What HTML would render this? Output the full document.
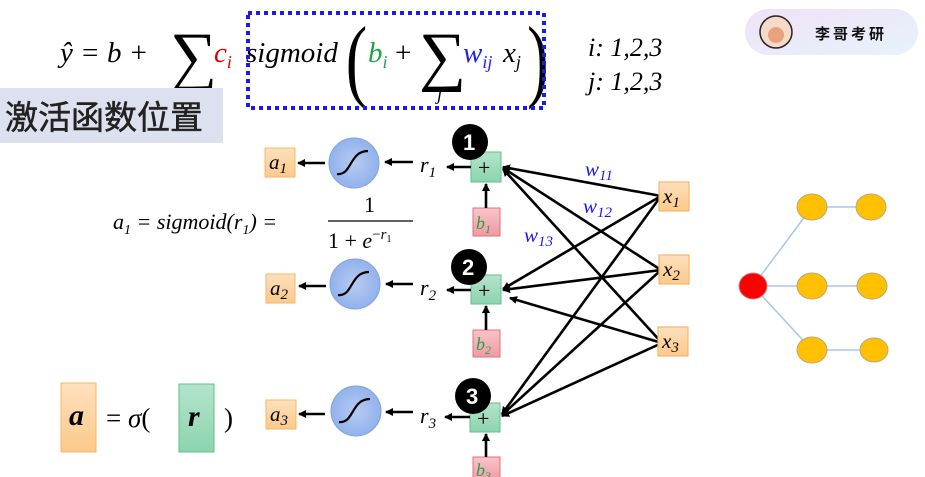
<!DOCTYPE html>
<html><head><meta charset="utf-8"><style>
html,body{margin:0;padding:0;background:#fff;}
svg{display:block;}
.m{font-family:"Liberation Serif","DejaVu Serif",serif;font-style:italic;}
.n{font-family:"Liberation Serif","DejaVu Serif",serif;}
</style></head><body>
<svg width="925" height="477" viewBox="0 0 925 477" xmlns="http://www.w3.org/2000/svg">
<defs>
<marker id="ah" markerWidth="8" markerHeight="8" refX="7" refY="4" orient="auto" markerUnits="userSpaceOnUse">
<path d="M0,0 L8,4 L0,8 z" fill="#000"/></marker>
<linearGradient id="og" x1="0" y1="0" x2="0" y2="1"><stop offset="0" stop-color="#fde0bd"/><stop offset="1" stop-color="#fcc98a"/></linearGradient>
<linearGradient id="gg" x1="0" y1="0" x2="0" y2="1"><stop offset="0" stop-color="#b4e4cc"/><stop offset="1" stop-color="#8cd4ae"/></linearGradient>
<linearGradient id="pg" x1="0" y1="0" x2="0" y2="1"><stop offset="0" stop-color="#f9c4c8"/><stop offset="1" stop-color="#ef9aa2"/></linearGradient>
<linearGradient id="bg" x1="0" y1="0" x2="1" y2="1"><stop offset="0" stop-color="#efe2f6"/><stop offset="1" stop-color="#e7f2fc"/></linearGradient>
<radialGradient id="cg"><stop offset="0" stop-color="#b6cbf3"/><stop offset="1" stop-color="#92b2ec"/></radialGradient>
</defs>

<!-- badge -->
<rect x="745" y="9" width="173" height="46" rx="23" fill="url(#bg)"/>
<circle cx="776" cy="32" r="16" fill="#f6d9c8" stroke="#222" stroke-width="1.5"/>
<circle cx="776" cy="35" r="8" fill="#e8a27c"/>
<text x="815" y="39" font-family="'Noto Sans CJK SC',sans-serif" font-size="15" font-weight="bold" letter-spacing="3" fill="#111">李哥考研</text>

<!-- top formula -->
<text class="m" x="60" y="62" font-size="29">ŷ <tspan class="n">=</tspan> b <tspan class="n">+</tspan></text>
<text class="n" x="170" y="78" font-size="66">∑</text>
<text class="m" x="214" y="62" font-size="29" fill="#e00000">c<tspan font-size="18" dy="6">i</tspan></text>
<text class="m" x="246" y="62" font-size="29">sigmoid</text>
<text class="n" x="346" y="90" font-size="92" transform="scale(0.7,1) translate(148,0)">(</text>
<text class="m" x="368" y="62" font-size="29" fill="#1fa54a">b<tspan font-size="18" dy="6">i</tspan></text>
<text class="n" x="395" y="62" font-size="29">+</text>
<text class="n" x="419" y="78" font-size="66">∑</text>
<text class="m" x="437" y="100" font-size="18">j</text>
<text class="m" x="463" y="62" font-size="29" fill="#2020ee">w<tspan font-size="18" dy="6">ij</tspan></text>
<text class="m" x="503" y="62" font-size="29">x<tspan font-size="18" dy="6">j</tspan></text>
<text class="n" x="527" y="90" font-size="92" transform="scale(0.7,1) translate(226,0)">)</text>
<rect x="248" y="13" width="296" height="95" fill="none" stroke="#1a1aee" stroke-width="4" stroke-dasharray="4,4"/>
<text class="m" x="588" y="56" font-size="26">i<tspan class="n">: 1,2,3</tspan></text>
<text class="m" x="588" y="90" font-size="26">j<tspan class="n">: 1,2,3</tspan></text>

<rect x="0" y="88" width="223" height="55" fill="#dde0ee"/>
<text x="5" y="129" font-family="'Noto Sans CJK SC',sans-serif" font-size="33" fill="#222" stroke="#222" stroke-width="0.5">激活函数位置</text>

<!-- a1 formula -->
<text class="m" x="113" y="229" font-size="22">a<tspan font-size="14" dy="5">1</tspan><tspan class="n" dy="-5"> = </tspan>sigmoid<tspan class="n">(</tspan>r<tspan font-size="14" dy="5">1</tspan><tspan class="n" dy="-5">) =</tspan></text>
<line x1="328" y1="221" x2="413" y2="221" stroke="#000" stroke-width="1.3"/>
<text class="n" x="364" y="212" font-size="22">1</text>
<text class="n" x="328" y="248" font-size="22">1 + <tspan class="m">e</tspan><tspan font-size="15" dy="-9">−</tspan><tspan class="m" font-size="15">r</tspan><tspan font-size="10" dy="3">1</tspan></text>

<!-- connection lines -->
<g stroke="#000" stroke-width="2.6" marker-end="url(#ah)">
<line x1="661" y1="196" x2="503" y2="167"/>
<line x1="661" y1="196" x2="503" y2="289"/>
<line x1="661" y1="196" x2="502" y2="414"/>
<line x1="661" y1="270" x2="503" y2="168"/>
<line x1="661" y1="270" x2="503" y2="290"/>
<line x1="661" y1="270" x2="502" y2="415"/>
<line x1="662" y1="343" x2="503" y2="169"/>
<line x1="662" y1="343" x2="510" y2="298"/>
<line x1="662" y1="343" x2="502" y2="416"/>
</g>
<text class="m" x="585" y="176" font-size="21" fill="#1a1aee">w<tspan font-size="15" dy="4">11</tspan></text>
<text class="m" x="583" y="213" font-size="21" fill="#1a1aee">w<tspan font-size="15" dy="4">12</tspan></text>
<text class="m" x="524" y="242" font-size="21" fill="#1a1aee">w<tspan font-size="15" dy="4">13</tspan></text>

<!-- x boxes -->
<g fill="url(#og)" stroke="#f7b66a" stroke-width="1.2">
<rect x="659" y="182" width="30" height="29"/>
<rect x="659" y="255" width="30" height="29"/>
<rect x="658" y="327" width="30" height="29"/>
</g>
<text class="m" x="663" y="203" font-size="21">x<tspan font-size="15" dy="4">1</tspan></text>
<text class="m" x="663" y="276" font-size="21">x<tspan font-size="15" dy="4">2</tspan></text>
<text class="m" x="662" y="348" font-size="21">x<tspan font-size="15" dy="4">3</tspan></text>

<!-- row1 -->
<rect x="471" y="152" width="30" height="30" fill="url(#gg)" stroke="#5fc08a"/>
<text class="n" x="478" y="175" font-size="22">+</text>
<rect x="473" y="208" width="27" height="28" fill="url(#pg)" stroke="#e0707c"/>
<text class="m" x="476" y="229" font-size="18" fill="#1fa54a">b<tspan font-size="12" dy="4">1</tspan></text>
<line x1="486" y1="208" x2="486" y2="184" stroke="#000" stroke-width="2.6" marker-end="url(#ah)"/>
<line x1="471" y1="167" x2="447" y2="167" stroke="#000" stroke-width="2.6" marker-end="url(#ah)"/>
<text class="m" x="420" y="172" font-size="22">r<tspan font-size="15" dy="5">1</tspan></text>
<line x1="413" y1="162" x2="385" y2="162" stroke="#000" stroke-width="2.6" marker-end="url(#ah)"/>
<circle cx="354" cy="163" r="25" fill="url(#cg)" stroke="#7fa3e0"/>
<path d="M337,174 C352,176 349,151 368,151" stroke="#000" stroke-width="2.2" fill="none"/>
<line x1="325" y1="163" x2="298" y2="163" stroke="#000" stroke-width="2.6" marker-end="url(#ah)"/>
<rect x="265" y="148" width="30" height="29" fill="url(#og)" stroke="#f7b66a"/>
<text class="m" x="269" y="169" font-size="21">a<tspan font-size="15" dy="4">1</tspan></text>
<circle cx="470" cy="142" r="18" fill="#000"/>
<text x="463" y="150" font-family="'Liberation Sans',sans-serif" font-size="22" font-weight="bold" fill="#fff">1</text>

<!-- row2 -->
<rect x="471" y="275" width="30" height="29" fill="url(#gg)" stroke="#5fc08a"/>
<text class="n" x="478" y="298" font-size="22">+</text>
<rect x="473" y="330" width="27" height="27" fill="url(#pg)" stroke="#e0707c"/>
<text class="m" x="476" y="350" font-size="18" fill="#1fa54a">b<tspan font-size="12" dy="4">2</tspan></text>
<line x1="486" y1="330" x2="486" y2="306" stroke="#000" stroke-width="2.6" marker-end="url(#ah)"/>
<line x1="471" y1="290" x2="447" y2="290" stroke="#000" stroke-width="2.6" marker-end="url(#ah)"/>
<text class="m" x="420" y="295" font-size="22">r<tspan font-size="15" dy="5">2</tspan></text>
<line x1="413" y1="284" x2="386" y2="284" stroke="#000" stroke-width="2.6" marker-end="url(#ah)"/>
<circle cx="355" cy="284" r="25" fill="url(#cg)" stroke="#7fa3e0"/>
<path d="M338,295 C353,297 350,272 369,272" stroke="#000" stroke-width="2.2" fill="none"/>
<line x1="326" y1="286" x2="299" y2="286" stroke="#000" stroke-width="2.6" marker-end="url(#ah)"/>
<rect x="266" y="274" width="29" height="29" fill="url(#og)" stroke="#f7b66a"/>
<text class="m" x="270" y="295" font-size="21">a<tspan font-size="15" dy="4">2</tspan></text>
<circle cx="469" cy="267" r="18" fill="#000"/>
<text x="462" y="275" font-family="'Liberation Sans',sans-serif" font-size="22" font-weight="bold" fill="#fff">2</text>

<!-- row3 -->
<rect x="470" y="403" width="30" height="29" fill="url(#gg)" stroke="#5fc08a"/>
<text class="n" x="477" y="426" font-size="22">+</text>
<rect x="473" y="457" width="27" height="24" fill="url(#pg)" stroke="#e0707c"/>
<text class="m" x="476" y="476" font-size="18" fill="#1fa54a">b<tspan font-size="12" dy="4">3</tspan></text>
<line x1="486" y1="457" x2="486" y2="434" stroke="#000" stroke-width="2.6" marker-end="url(#ah)"/>
<line x1="470" y1="417" x2="445" y2="417" stroke="#000" stroke-width="2.6" marker-end="url(#ah)"/>
<text class="m" x="420" y="423" font-size="22">r<tspan font-size="15" dy="5">3</tspan></text>
<line x1="413" y1="412" x2="386" y2="412" stroke="#000" stroke-width="2.6" marker-end="url(#ah)"/>
<circle cx="356" cy="411" r="25" fill="url(#cg)" stroke="#7fa3e0"/>
<path d="M339,422 C354,424 351,399 370,399" stroke="#000" stroke-width="2.2" fill="none"/>
<line x1="325" y1="414" x2="299" y2="414" stroke="#000" stroke-width="2.6" marker-end="url(#ah)"/>
<rect x="266" y="400" width="30" height="29" fill="url(#og)" stroke="#f7b66a"/>
<text class="m" x="270" y="421" font-size="21">a<tspan font-size="15" dy="4">3</tspan></text>
<circle cx="473" cy="396" r="18" fill="#000"/>
<text x="466" y="404" font-family="'Liberation Sans',sans-serif" font-size="22" font-weight="bold" fill="#fff">3</text>

<!-- bottom formula -->
<rect x="61" y="383" width="35" height="69" fill="url(#og)" stroke="#f7b66a"/>
<text class="m" x="69" y="425" font-size="30" font-weight="bold">a</text>
<text class="n" x="106" y="427" font-size="27">= <tspan class="m">σ</tspan>(</text>
<rect x="179" y="384" width="35" height="68" fill="url(#gg)" stroke="#5fc08a"/>
<text class="m" x="188" y="426" font-size="30" font-weight="bold">r</text>
<text class="n" x="224" y="427" font-size="27">)</text>

<!-- tree -->
<g stroke="#a8c6f0" stroke-width="1.5">
<line x1="753" y1="286" x2="812" y2="207"/>
<line x1="753" y1="286" x2="812" y2="286"/>
<line x1="753" y1="286" x2="812" y2="350"/>
<line x1="812" y1="207" x2="871" y2="207"/>
<line x1="812" y1="286" x2="872" y2="286"/>
<line x1="812" y1="350" x2="874" y2="350"/>
</g>
<ellipse cx="753" cy="286" rx="14" ry="13" fill="#ff0000" stroke="#c88"/>
<g fill="#ffc000" stroke="#b8a878">
<ellipse cx="812" cy="207" rx="15" ry="13"/>
<ellipse cx="871" cy="207" rx="15" ry="13"/>
<ellipse cx="812" cy="286" rx="15" ry="13"/>
<ellipse cx="872" cy="286" rx="15" ry="13"/>
<ellipse cx="812" cy="350" rx="15" ry="13"/>
<ellipse cx="874" cy="350" rx="14" ry="12"/>
</g>
</svg>
</body></html>
